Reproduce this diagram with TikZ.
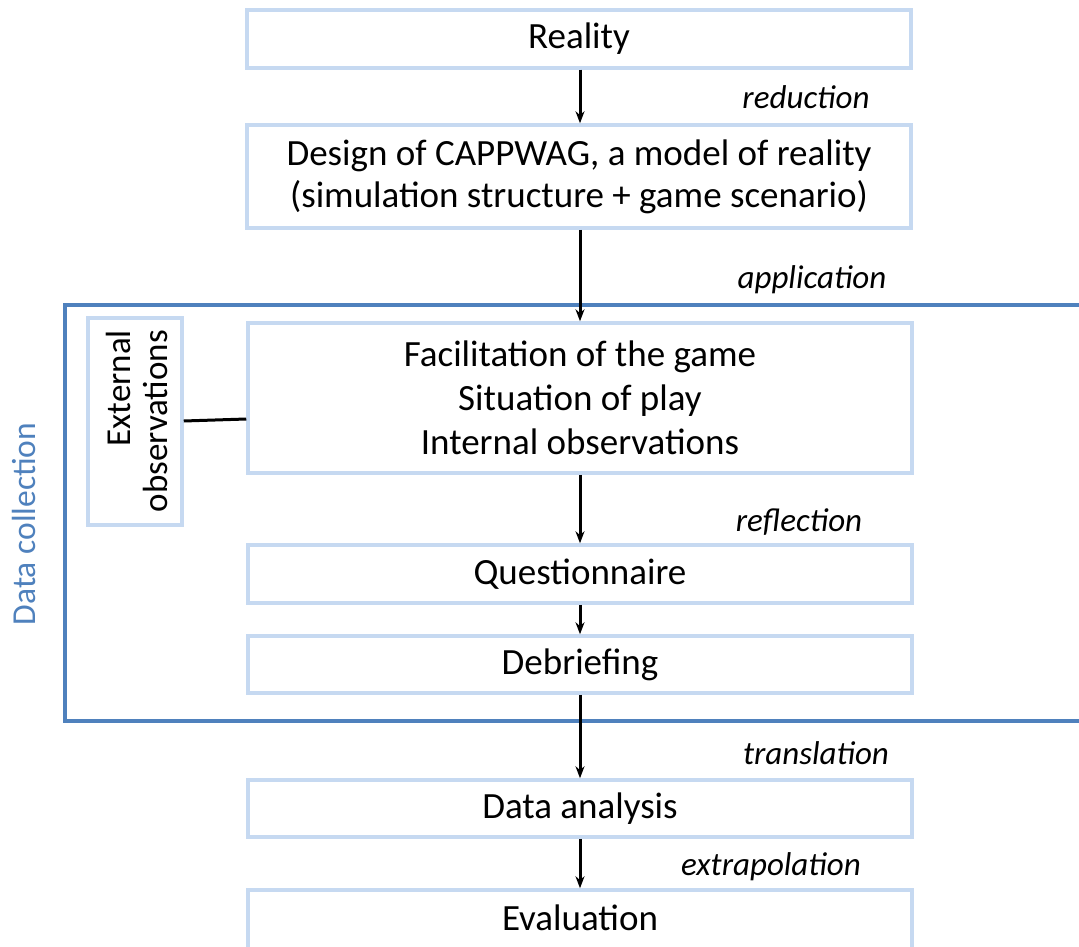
\documentclass[tikz,border=0pt]{standalone}
\usepackage{fontspec}
\setmainfont{Carlito}
\usetikzlibrary{arrows.meta}
\definecolor{boxblue}{HTML}{C6D9F1}
\definecolor{frameblue}{HTML}{4F81BD}
\tikzset{
  stepbox/.style={draw=boxblue, line width=3.5pt, minimum width=664pt, align=center, inner sep=0pt, font=\fontsize{37}{44}\selectfont},
  flow/.style={-{Stealth[length=12pt,width=9pt]}, line width=3pt, black},
  verb/.style={font=\fontsize{33}{38}\selectfont\itshape},
}
\begin{document}
\begin{tikzpicture}[x=1pt,y=-1pt]
\clip (0,0) rectangle (1079,947);
\fill[white] (0,0) rectangle (1079,947);
% Data collection frame
\draw[frameblue, line width=3.5pt] (1090,305) -- (65,305) -- (65,721) -- (1090,721);
\node[rotate=90, text=frameblue, font=\fontsize{33.5}{38}\selectfont] (dc) at (24,524) {Data collection};
% boxes
\node[stepbox, minimum height=58pt] (reality) at (579,39) {Reality};
\node[stepbox, minimum height=103pt, font=\fontsize{37}{42}\selectfont] (design) at (579,176.5) {Design of CAPPWAG, a model of reality\\(simulation structure + game scenario)};
\node[stepbox, minimum height=150pt] (facil) at (580,398) {Facilitation of the game\\Situation of play\\Internal observations};
\node[draw=boxblue, line width=3.5pt, minimum width=94pt, minimum height=207pt, inner sep=0pt] (extbox) at (135,421.5) {};
\node[rotate=90, anchor=east, align=right, inner sep=0pt, font=\fontsize{35}{37}\selectfont] (ext) at (136.5,330) {External\\observations};
\node[stepbox, minimum height=58pt] (quest) at (580,574) {Questionnaire};
\node[stepbox, minimum height=57pt] (debrief) at (580,664.5) {Debriefing};
\node[stepbox, minimum height=57pt] (analysis) at (580,808.5) {Data analysis};
\node[stepbox, minimum height=80pt] (eval) at (580,930) {};
\node[font=\fontsize{37}{44}\selectfont] (evaltext) at (580,918) {Evaluation};
% arrows
\draw[flow] (reality.south -| 580,0) -- (design.north -| 580,0);
\draw[flow] (design.south -| 580,0) -- (facil.north -| 580,0);
\draw[flow] (facil.south) -- (quest.north);
\draw[flow] (quest.south) -- (debrief.north);
\draw[flow] (debrief.south) -- (analysis.north);
\draw[flow] (analysis.south) -- (eval.north);
\draw[line width=3pt] (extbox.east |- 0,421) -- (facil.west |- 0,419);
% labels
\node[verb] (l1) at (806,97) {reduction};
\node[verb] (l2) at (812,280) {application};
\node[verb] (l3) at (799,522) {reflection};
\node[verb] (l4) at (816,753) {translation};
\node[verb] (l5) at (771,867) {extrapolation};
\end{tikzpicture}
\end{document}
